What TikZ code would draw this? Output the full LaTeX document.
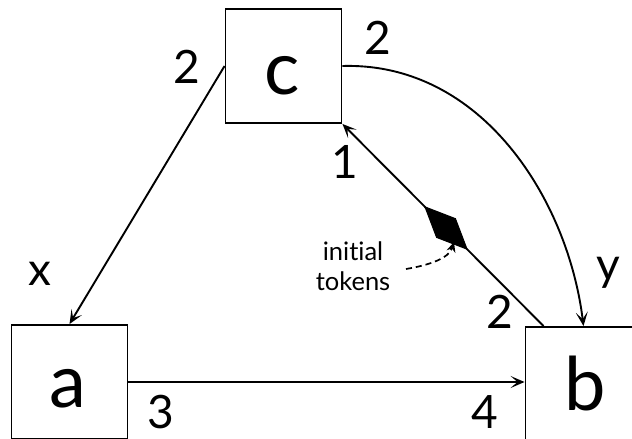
\documentclass[tikz,border=0pt]{standalone}
\usepackage{fontspec}
\setmainfont{Lato}[Ligatures=NoCommon]
\usetikzlibrary{arrows.meta,shapes.geometric}
\begin{document}
\begin{tikzpicture}[x=1pt,y=-1pt, line width=1.9pt,
  box/.style={draw, minimum width=116pt, minimum height=114pt, inner sep=0pt},
  big/.style={font=\fontsize{74}{74}\selectfont, inner sep=0pt},
  lab/.style={font=\fontsize{46}{46}\selectfont, inner sep=0pt},
  arr/.style={-{Stealth[length=14pt,width=12pt,inset=7pt]}},
  tokmark/.style={diamond, fill=black, draw=black, line width=1pt, sloped, aspect=2.2, minimum width=60pt, minimum height=27pt, inner sep=0pt},
  note/.style={font=\fontsize{25.5}{30}\selectfont, align=center, inner sep=0pt}]
\useasboundingbox (0,0) rectangle (632,439);
% boxes
\node[box] (c) at (283.5,66) {};
\node[box] (a) at (69.5,382) {};
\node[box] (b) at (583.5,384) {};
\node[big] (ct) at (282.5,75.5) {c};
\node[big] (at) at (68,389) {a};
\node[big] (bt) at (585,383.5) {b};
% connectors
\draw[arr] (c.west) -- (a.north);
\draw[arr] (a.east) -- (a.east -| b.west);
\coordinate (bs) at ([xshift=19pt]b.north west);
\draw[arr] (bs) -- (c.south east) node[tokmark, pos=0.485] (tok) {};
\draw[arr] (c.east) .. controls (482,62) and (568,200) .. (b.north);
% labels
\node[lab] (l1) at (187,67) {2};
\node[lab] (l2) at (40,274) {x};
\node[lab] (l3) at (378,38) {2};
\node[lab] (l4) at (608,273) {y};
\node[lab] (l5) at (345,162) {1};
\node[lab] (l6) at (500,312) {2};
\node[lab] (l7) at (161,412) {3};
\node[lab] (l8) at (485,412) {4};
% initial tokens
\node[note] (it) at (353,266) {initial\\tokens};
\coordinate (ds) at (406,269);
\coordinate (de) at (454,242);
\draw[dashed, dash pattern=on 6pt off 4pt, line width=1.7pt, -{Stealth[length=10pt,width=9pt]}] (ds) .. controls (430,265) and (449,258) .. (de);
\end{tikzpicture}
\end{document}
